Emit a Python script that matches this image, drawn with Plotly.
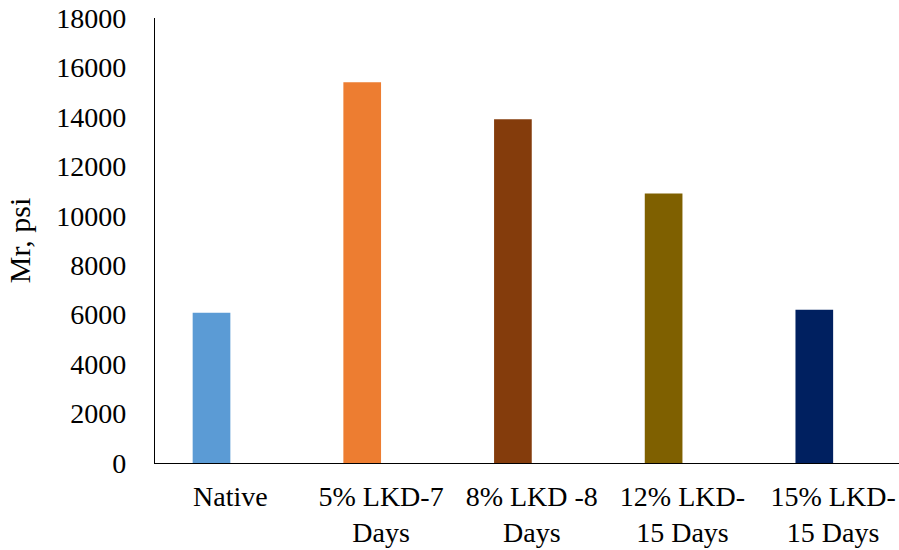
import plotly.graph_objects as go

# Resilient modulus by treatment
categories = ["Native", "5% LKD-7<br>Days", "8% LKD -8<br>Days",
              "12% LKD-<br>15 Days", "15% LKD-<br>15 Days"]
mr_values = [6080, 15400, 13900, 10900, 6200]
bar_colors = ["#5B9BD5", "#ED7D31", "#843C0C", "#7F6000", "#002060"]
y_ticks = list(range(0, 18001, 2000))

font_family = "Liberation Serif"

fig = go.Figure(
    go.Bar(
        x=categories,
        y=mr_values,
        marker=dict(color=bar_colors, line=dict(width=0)),
        width=0.25,
        offset=-0.25,
        hoverinfo="x+y",
    )
)

fig.update_layout(
    width=899,
    height=550,
    margin=dict(l=155, r=0, t=18, b=87),
    paper_bgcolor="white",
    plot_bgcolor="white",
    font=dict(family=font_family, size=28, color="black"),
    showlegend=False,
)

fig.update_xaxes(
    range=[-0.5, 4.437],
    showline=True,
    linecolor="black",
    linewidth=1.3,
    showgrid=False,
    ticks="",
    ticklabelstandoff=8,
    tickfont=dict(family=font_family, size=28, color="black"),
)

fig.update_yaxes(
    range=[0, 18000],
    tickvals=y_ticks,
    ticktext=[str(v) for v in y_ticks],
    showline=True,
    linecolor="black",
    linewidth=1.3,
    showgrid=False,
    zeroline=False,
    ticks="",
    ticklabelstandoff=22,
    tickfont=dict(family=font_family, size=28, color="black"),
    title=dict(text="Mr, psi", font=dict(family=font_family, size=30, color="black"),
               standoff=16),
)

fig.write_html("out.html")
